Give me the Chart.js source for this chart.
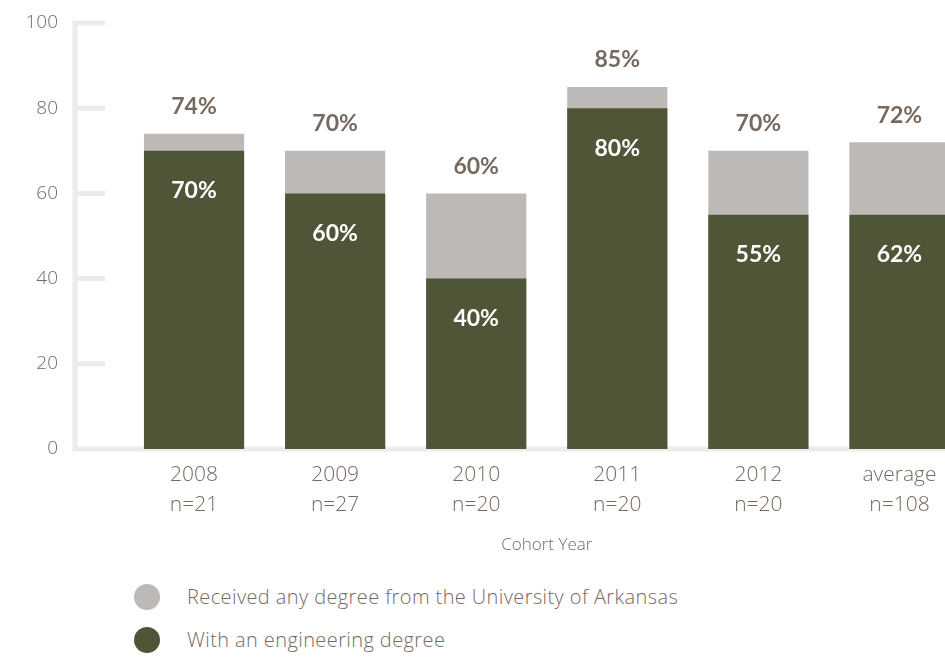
<!DOCTYPE html>
<html>
<head>
<meta charset="utf-8">
<script src="https://cdn.jsdelivr.net/npm/chart.js@4"></script>
<style>
  html, body { margin: 0; padding: 0; background: #fff; }
  body { width: 945px; height: 665px; position: relative; overflow: hidden; font-family: "Open Sans", sans-serif; }
  #wrap { position: absolute; left: 0; top: 0; width: 945px; height: 560px; overflow: hidden; }
  .leg { position: absolute; left: 134px; height: 26px; line-height: 26px; font-size: 20px; font-weight: 300; letter-spacing: 0.4px; color: #78695f; white-space: nowrap; }
  .leg span { display: inline-block; width: 26px; height: 26px; border-radius: 50%; vertical-align: top; margin-right: 27px; }
</style>
</head>
<body>
<div id="wrap"><canvas id="cohortChart" width="970" height="560"></canvas></div>
<div class="leg" style="top:584px"><span style="background:#bdb9b6"></span>Received any degree from the University of Arkansas</div>
<div class="leg" style="top:627px"><span style="background:#4f5638"></span>With an engineering degree</div>
<script>
// cohort labels (year + sample size)
const cohortYears = ["2008", "2009", "2010", "2011", "2012", "average"];
const cohortSizes = ["n=21", "n=27", "n=20", "n=20", "n=20", "n=108"];

// bar heights
const anyDegree = [74, 70, 60, 85, 70, 72];
const engDegree = [70, 60, 40, 80, 55, 55];

// printed labels (average bar is labelled 62% in the original)
const anyDegreeText = ["74%", "70%", "60%", "85%", "70%", "72%"];
const engDegreeText = ["70%", "60%", "40%", "80%", "55%", "62%"];

const yTicks = [0, 20, 40, 60, 80, 100];

const textColor = "#78695f";
const axisColor = "#ebebeb";

// light gray axis with stubby tick marks
const axisPlugin = {
  id: "axisLines",
  beforeDatasetsDraw(chart) {
    const { ctx, scales: { y }, width } = chart;
    const ax = y.right - 48.5;
    const y0 = y.getPixelForValue(0);
    ctx.save();
    ctx.strokeStyle = axisColor;
    ctx.lineWidth = 5;
    ctx.beginPath();
    ctx.moveTo(ax, y.getPixelForValue(100) - 2.5);
    ctx.lineTo(ax, y0);
    ctx.moveTo(ax - 2.5, y0);
    ctx.lineTo(width, y0);
    yTicks.forEach(v => {
      if (v === 0) return;
      const py = y.getPixelForValue(v);
      ctx.moveTo(ax, py);
      ctx.lineTo(ax + 30, py);
    });
    ctx.stroke();
    ctx.restore();
  }
};

// percentage labels above and inside the bars
const labelPlugin = {
  id: "barLabels",
  afterDatasetsDraw(chart) {
    const { ctx } = chart;
    const engBars = chart.getDatasetMeta(0).data;
    const anyBars = chart.getDatasetMeta(1).data;
    ctx.save();
    ctx.font = "bold 23px Lato, sans-serif";
    ctx.textAlign = "center";
    ctx.textBaseline = "middle";
    anyBars.forEach((bar, i) => {
      ctx.fillStyle = textColor;
      ctx.fillText(anyDegreeText[i], bar.x, bar.y - 27);
      ctx.fillStyle = "#ffffff";
      ctx.fillText(engDegreeText[i], engBars[i].x, engBars[i].y + 40);
    });
    ctx.restore();
  }
};

const ctx = document.getElementById("cohortChart").getContext("2d");

new Chart(ctx, {
  type: "bar",
  data: {
    labels: cohortYears.map((yr, i) => [yr, cohortSizes[i]]),
    datasets: [
      {
        label: "With an engineering degree",
        data: engDegree,
        backgroundColor: "#4f5638",
        grouped: false,
        barPercentage: 0.71,
        categoryPercentage: 1.0
      },
      {
        label: "Received any degree from the University of Arkansas",
        data: anyDegree,
        backgroundColor: "#bdb9b6",
        grouped: false,
        barPercentage: 0.71,
        categoryPercentage: 1.0
      }
    ]
  },
  options: {
    responsive: false,
    animation: false,
    layout: { padding: { top: 23, left: 0, right: 0, bottom: 0 } },
    plugins: {
      legend: { display: false },
      tooltip: { enabled: false }
    },
    scales: {
      x: {
        grid: { display: false, drawTicks: false },
        border: { display: false },
        ticks: {
          color: textColor,
          padding: 11,
          font: { family: "Open Sans", size: 21, weight: 300, lineHeight: 1.42 }
        },
        title: {
          display: true,
          text: "Cohort Year",
          color: textColor,
          font: { family: "Open Sans", size: 17, weight: 300 },
          padding: { top: 0, bottom: 5 }
        },
        afterFit: s => { s.height = 111; }
      },
      y: {
        min: 0,
        max: 100,
        grid: { display: false, drawTicks: false },
        border: { display: false },
        ticks: {
          stepSize: 20,
          color: textColor,
          padding: 65.5,
          font: { family: "Open Sans", size: 19, weight: 300 }
        },
        // keep the big label gap from pushing the plot area down
        afterFit: s => { s.width = 123.5; s.paddingTop = 0; s.paddingBottom = 0; }
      }
    }
  },
  plugins: [axisPlugin, labelPlugin]
});
</script>
</body>
</html>
